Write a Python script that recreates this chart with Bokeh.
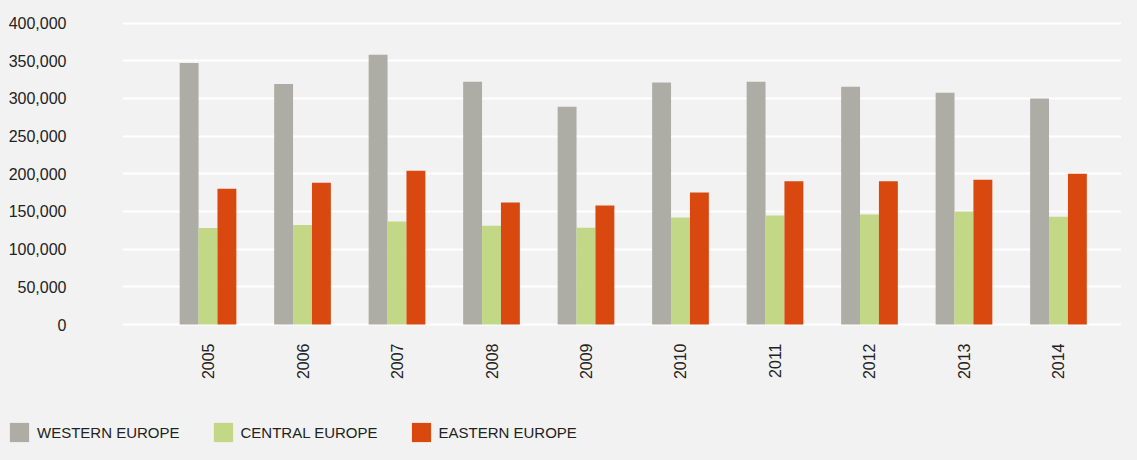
import math
from bokeh.plotting import figure
from bokeh.layouts import column
from bokeh.models import Range1d, NumeralTickFormatter, FixedTicker, Legend, LegendItem
from bokeh.transform import dodge
from bokeh.embed import file_html
from bokeh.resources import INLINE

years = ["2005", "2006", "2007", "2008", "2009", "2010", "2011", "2012", "2013", "2014"]
western = [347000, 319000, 358000, 322000, 289000, 321000, 322000, 315500, 307500, 300000]
central = [128000, 132000, 136500, 131000, 128500, 142000, 144500, 146000, 150000, 143000]
eastern = [180000, 188000, 204000, 162000, 158000, 175000, 190000, 190000, 192000, 200000]
series_names = ["WESTERN EUROPE", "CENTRAL EUROPE", "EASTERN EUROPE"]
colors = ["#aeada5", "#c2d887", "#d9480e"]
y_ticks = [0, 50000, 100000, 150000, 200000, 250000, 300000, 350000, 400000]

BG = "#f2f2f2"
FONT = "Liberation Sans"
TXT = "#222222"

xpos = list(range(len(years)))

p = figure(
    width=1121, height=410,
    x_range=Range1d(-0.905, 9.667),
    y_range=Range1d(-2650, 411300),
    output_backend="svg", toolbar_location=None,
    background_fill_color=BG, border_fill_color=BG,
    min_border_left=122, min_border_right=0, min_border_top=14, min_border_bottom=84,
)
p.outline_line_color = None
p.frame_align = False

data = dict(x=xpos, western=western, central=central, eastern=eastern)
for key, off, col in zip(["western", "central", "eastern"], [-0.2, 0.0, 0.2], colors):
    p.vbar(x=dodge("x", off), top=key, bottom=0, width=0.2,
           source=data, fill_color=col, line_color=None)

# grid
p.xgrid.grid_line_color = None
p.ygrid.grid_line_color = "white"
p.ygrid.grid_line_width = 2
p.yaxis.ticker = FixedTicker(ticks=y_ticks)

# y axis
p.yaxis.formatter = NumeralTickFormatter(format="0,0")
p.yaxis.axis_line_color = None
p.yaxis.major_tick_line_color = None
p.yaxis.minor_tick_line_color = None
p.yaxis.major_tick_out = 0
p.yaxis.major_label_standoff = 56
p.yaxis.major_label_text_font = FONT
p.yaxis.major_label_text_font_size = "16px"
p.yaxis.major_label_text_color = TXT
p.yaxis.major_label_text_baseline = "alphabetic"

# x axis (categorical years as tick labels)
p.xaxis.ticker = FixedTicker(ticks=xpos)
p.xaxis.major_label_overrides = {i: y for i, y in zip(xpos, years)}
p.xaxis.axis_line_color = None
p.xaxis.major_tick_line_color = None
p.xaxis.minor_tick_line_color = None
p.xaxis.major_tick_out = 0
p.xaxis.major_label_orientation = math.pi / 2
p.xaxis.major_label_standoff = 17
p.xaxis.major_label_text_font = FONT
p.xaxis.major_label_text_font_size = "16px"
p.xaxis.major_label_text_color = TXT

# legend strip below the chart
lp = figure(
    width=1121, height=34,
    x_range=Range1d(0, 1), y_range=Range1d(0, 1),
    output_backend="svg", toolbar_location=None,
    x_axis_location=None, y_axis_location=None,
    background_fill_color=BG, border_fill_color=BG,
    min_border_left=0, min_border_right=0, min_border_top=0, min_border_bottom=0,
)
lp.outline_line_color = None
lp.frame_align = False
lp.xgrid.visible = False
lp.ygrid.visible = False
items = []
for name, col in zip(series_names, colors):
    # legend proxy, kept outside the visible range
    r = lp.vbar(x=[-5], top=[0], bottom=[0], width=0.2, fill_color=col, line_color=None)
    items.append(LegendItem(label=name, renderers=[r]))
lg = Legend(items=items)
lg.orientation = "horizontal"
lg.location = (7, 0)
lg.padding = 0
lg.margin = 0
lg.spacing = 31
lg.glyph_width = 24
lg.glyph_height = 24
lg.label_standoff = 6
lg.label_text_font = FONT
lg.label_text_font_size = "15px"
lg.label_text_color = TXT
lg.border_line_color = None
lg.background_fill_alpha = 0
lp.add_layout(lg, "center")

layout = column(p, lp, spacing=0)

html = file_html(layout, INLINE)
html = html.replace("</head>", "<style>html, body { background-color: #f2f2f2; }</style></head>", 1)
open("out.html", "w").write(html)
